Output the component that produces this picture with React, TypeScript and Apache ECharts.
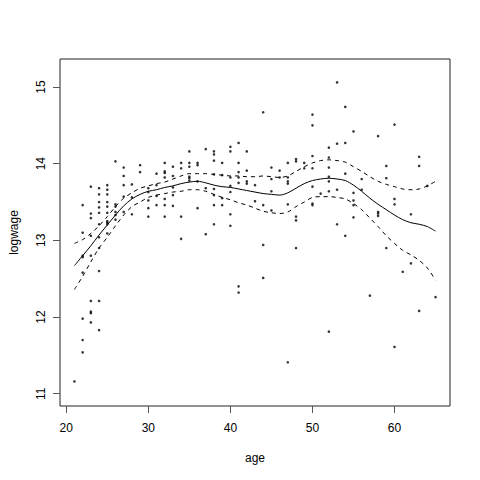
import React, { useEffect, useRef } from "react";
import * as echarts from "echarts";

const obsAge: number[] = [
  21,
  22, 22, 22, 22, 22, 22, 22, 22,
  23, 23, 23, 23, 23, 23, 23, 23, 23,
  24, 24, 24, 24, 24, 24, 24, 24, 24, 24, 24,
  25, 25, 25, 25, 25, 25, 25, 25, 25, 25,
  26, 26, 26, 26, 26, 26,
  27, 27, 27, 27, 27,
  28, 28, 28,
  29, 29,
  30, 30, 30, 30, 30,
  31, 31, 31, 31,
  32, 32, 32, 32, 32, 32, 32,
  33, 33, 33, 33, 33,
  34, 34, 34, 34,
  35, 35, 35, 35, 35, 35,
  36, 36, 36, 36,
  37, 37, 37,
  38, 38, 38, 38, 38, 38, 38, 38,
  39, 39, 39, 39,
  40, 40, 40, 40, 40, 40, 40,
  41, 41, 41, 41, 41, 41, 41,
  42, 42, 42, 42,
  43, 43,
  44, 44, 44, 44,
  45, 45, 45, 45,
  46, 46,
  47, 47, 47, 47, 47, 47,
  48, 48, 48, 48, 48,
  49, 49,
  50, 50, 50, 50, 50, 50, 50,
  51,
  52, 52, 52, 52, 52, 52, 52,
  53, 53, 53, 53,
  54, 54, 54, 54,
  55, 55, 55, 55, 55,
  56, 56,
  57,
  58, 58, 58, 58,
  59, 59, 59,
  60, 60, 60, 60,
  61,
  62, 62,
  63, 63, 63,
  64,
  65,
];

const obsLogwage: number[] = [
  11.16,
  13.46, 13.1, 12.8, 12.78, 12.58, 11.98, 11.7, 11.54,
  13.7, 13.35, 13.29, 13.06, 12.8, 12.21, 12.07, 12.05, 11.93,
  13.68, 13.6, 13.5, 13.43, 13.36, 13.21, 13.04, 12.9, 12.6, 12.21, 11.83,
  13.72, 13.66, 13.6, 13.5, 13.44, 13.36, 13.25, 13.23, 13.21, 13.09,
  14.03, 13.47, 13.44, 13.37, 13.33, 13.27,
  13.95, 13.84, 13.72, 13.57, 13.37,
  13.73, 13.56, 13.34,
  13.98, 13.89,
  13.68, 13.63, 13.52, 13.42, 13.31,
  13.87, 13.72, 13.58, 13.46,
  14.01, 13.9, 13.88, 13.82, 13.54, 13.46, 13.31,
  13.96, 13.84, 13.69, 13.59, 13.45,
  14.01, 13.94, 13.31, 13.02,
  14.16, 14.01, 13.96, 13.83, 13.81, 13.78,
  14.01, 13.98, 13.77, 13.42,
  14.19, 13.68, 13.08,
  14.16, 14.12, 14.04, 13.86, 13.67, 13.59, 13.46, 13.21,
  14.01, 13.85, 13.55, 13.46,
  14.22, 14.16, 13.82, 13.71, 13.63, 13.34, 13.19,
  14.27, 14.01, 13.89, 13.82, 13.75, 12.4, 12.32,
  14.16, 13.91, 13.77, 13.74,
  13.72, 13.51,
  14.67, 13.46, 12.94, 12.51,
  13.95, 13.8, 13.64, 13.39,
  13.91, 13.82,
  14.01, 13.82, 13.77, 13.74, 13.47, 11.41,
  14.06, 14.03, 13.31, 13.26, 12.9,
  14.01, 13.94,
  14.64, 14.5, 14.1, 13.94, 13.7, 13.48, 13.46,
  13.61,
  14.21, 14.08, 13.95, 13.83, 13.77, 13.64, 11.81,
  15.06, 14.26, 13.66, 13.21,
  14.74, 14.27, 13.87, 13.06,
  14.42, 13.62, 13.52, 13.46, 13.3,
  13.8, 13.66,
  12.28,
  14.36, 13.37, 13.35, 13.32,
  13.97, 13.81, 12.9,
  14.51, 13.54, 13.47, 11.61,
  12.59,
  13.34, 12.7,
  14.09, 13.97, 12.08,
  13.71,
  12.26,
];

const fitAge: number[] = [
  21, 22, 23, 24, 25, 26, 27, 28, 29, 30, 31, 32, 33, 34, 35, 36, 37, 38, 39, 40, 41, 42, 43,
  44, 45, 46, 47, 48, 49, 50, 51, 52, 53, 54, 55, 56, 57, 58, 59, 60, 61, 62, 63, 64, 65,
];

const fitMean: number[] = [
  12.67, 12.8, 12.93, 13.07, 13.2, 13.33, 13.45, 13.54, 13.6, 13.64, 13.66, 13.69, 13.71, 13.74,
  13.76, 13.77, 13.75, 13.72, 13.7, 13.69, 13.67, 13.65, 13.63, 13.61, 13.6, 13.59, 13.62, 13.68,
  13.74, 13.78, 13.8, 13.81, 13.8, 13.78, 13.72, 13.64, 13.55, 13.47, 13.4, 13.33, 13.27, 13.23,
  13.21, 13.18, 13.12,
];

const fitUpper: number[] = [
  12.96, 13.01, 13.09, 13.19, 13.31, 13.44, 13.55, 13.62, 13.68, 13.71, 13.74, 13.76, 13.8, 13.84,
  13.87, 13.87, 13.87, 13.86, 13.85, 13.84, 13.84, 13.83, 13.83, 13.84, 13.83, 13.82, 13.84, 13.9,
  13.96, 14.01, 14.04, 14.05, 14.04, 14.02, 13.96, 13.9, 13.83, 13.77, 13.73, 13.7, 13.67, 13.66,
  13.67, 13.71, 13.77,
];

const fitLower: number[] = [
  12.36, 12.53, 12.72, 12.9, 13.04, 13.19, 13.33, 13.44, 13.5, 13.56, 13.59, 13.61, 13.63, 13.64,
  13.66, 13.66, 13.64, 13.6, 13.56, 13.53, 13.49, 13.46, 13.42, 13.38, 13.36, 13.35, 13.37, 13.44,
  13.5, 13.56, 13.57, 13.57, 13.56, 13.54, 13.48, 13.4, 13.29, 13.18, 13.06, 12.96, 12.87, 12.81,
  12.74, 12.64, 12.48,
];

const xTicks: number[] = [20, 30, 40, 50, 60];
const yTicks: number[] = [11, 12, 13, 14, 15];

export default function App() {
  const ref = useRef<HTMLDivElement>(null);
  useEffect(() => {
    if (!ref.current) return;
    const chart = echarts.init(ref.current, null, { renderer: "svg" });
    const font = "'Liberation Sans', Arial, Helvetica, sans-serif";
    const pts = obsAge.map((a, i) => [a, obsLogwage[i]]);
    const line = (ys: number[]) => fitAge.map((a, i) => [a, ys[i]]);
    chart.setOption({
      animation: false,
      backgroundColor: "#ffffff",
      grid: {
        left: 59,
        top: 59,
        width: 391,
        height: 347,
        show: true,
        borderColor: "#222",
        borderWidth: 1,
        backgroundColor: "transparent",
      },
      xAxis: {
        type: "value",
        min: 19.24,
        max: 66.76,
        name: "age",
        nameLocation: "middle",
        nameGap: 46,
        nameTextStyle: { color: "#000", fontSize: 12, fontFamily: font },
        axisLine: { show: false },
        splitLine: { show: false },
        axisTick: {
          show: true,
          inside: false,
          length: 7,
          customValues: xTicks,
          lineStyle: { color: "#555" },
        },
        axisLabel: {
          customValues: xTicks,
          margin: 16,
          color: "#000",
          fontSize: 12,
          fontFamily: font,
        },
      },
      yAxis: {
        type: "value",
        min: 10.84,
        max: 15.365,
        name: "logwage",
        nameLocation: "middle",
        nameGap: 40,
        nameRotate: 90,
        nameTextStyle: { color: "#000", fontSize: 12, fontFamily: font },
        axisLine: { show: false },
        splitLine: { show: false },
        axisTick: {
          show: true,
          inside: false,
          length: 7,
          customValues: yTicks,
          lineStyle: { color: "#555" },
        },
        axisLabel: {
          customValues: yTicks,
          rotate: 90,
          margin: 13,
          color: "#000",
          fontSize: 12,
          fontFamily: font,
        },
      },
      series: [
        {
          type: "scatter",
          data: pts,
          symbol: "circle",
          symbolSize: 2.6,
          itemStyle: { color: "#000" },
          silent: true,
        },
        {
          type: "line",
          data: line(fitMean),
          smooth: 0.3,
          showSymbol: false,
          lineStyle: { color: "#000", width: 1, type: "solid" },
          silent: true,
        },
        {
          type: "line",
          data: line(fitUpper),
          smooth: 0.3,
          showSymbol: false,
          lineStyle: { color: "#000", width: 1, type: [4, 4] },
          silent: true,
        },
        {
          type: "line",
          data: line(fitLower),
          smooth: 0.3,
          showSymbol: false,
          lineStyle: { color: "#000", width: 1, type: [4, 4] },
          silent: true,
        },
      ],
    });
    return () => chart.dispose();
  }, []);
  return (
    <div
      ref={ref}
      style={{ position: "absolute", left: 0, top: 0, width: 480, height: 480 }}
    />
  );
}
